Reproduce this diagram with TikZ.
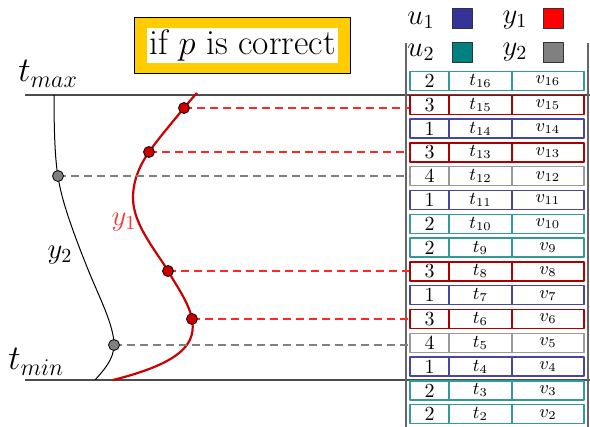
\documentclass[tikz,border=0pt]{standalone}
\definecolor{ublue}{RGB}{51,51,153}
\definecolor{uteal}{RGB}{0,128,128}
\definecolor{yred}{RGB}{204,0,0}
\definecolor{ygray}{RGB}{128,128,128}
\definecolor{boxorange}{RGB}{255,204,0}
\begin{document}
\begin{tikzpicture}[x=0.5pt,y=-0.5pt,line join=round,
	cell/.style={draw,line width=0.7pt,inner sep=0pt,minimum height=9.5pt},
	kind1/.style={draw=ublue!90},
	kind2/.style={draw=uteal!80},
	kind3/.style={draw=yred!85!black},
	kind4/.style={draw=ygray!80},
	dot/.style={circle,draw=black,line width=0.4pt,inner sep=0pt,minimum size=5.5pt},
	key/.style={draw=black!80,line width=0.5pt,minimum size=10pt,inner sep=0pt}]
	\useasboundingbox (0,0) rectangle (590,427);
	%time axis
	\draw[black!70,line width=0.8pt] (25,95)--(590,95) (25,380)--(590,380);
	\node[anchor=base west,font=\LARGE,inner sep=0pt] (tmax) at (18,82) {$t_{max}$};
	\node[anchor=base west,font=\LARGE,inner sep=0pt] (tmin) at (8,370) {$t_{min}$};
	%title
	\node[draw,fill=boxorange,inner xsep=6.5pt,inner ysep=5pt] (title) at (242.5,45.5)
	{\fboxsep=1pt\colorbox{white}{\fontsize{17.7}{21}\selectfont if $p$ is correct}};
	%legend
	\node[font=\Large] (u1) at (421,20) {$u_1$};
	\node[key,fill=ublue] (ku1) at (462,19) {};
	\node[font=\Large] (y1) at (515,20) {$y_1$};
	\node[key,fill=red] (ky1) at (553,19) {};
	\node[font=\Large] (u2) at (421,52) {$u_2$};
	\node[key,fill=uteal] (ku2) at (462,53) {};
	\node[font=\Large] (y2) at (515,52) {$y_2$};
	\node[key,fill=ygray] (ky2) at (553,53) {};
	%table
	\draw[black!60,line width=1pt] (406,43)--(406,427) (588,43)--(588,427);
	\foreach \k/\kd in {16/2,15/3,14/1,13/3,12/4,11/1,10/2,9/2,8/3,7/1,6/3,5/4,4/1,3/2,2/2}{
		\pgfmathsetmacro{\ry}{81+(16-\k)*23.8}
		\node[cell,kind\kd,minimum width=19.5pt] (n\k) at (429.5,\ry) {\kd};
		\node[cell,kind\kd,minimum width=31.5pt,font=\small] (t\k) at (480.5,\ry) {$t_{\k}$};
		\node[cell,kind\kd,minimum width=36pt,font=\small] (v\k) at (548,\ry) {$v_{\k}$};
	}
	%points on the curves
	\coordinate (r15) at (184,108);
	\coordinate (r13) at (149,152);
	\coordinate (r8) at (168,271);
	\coordinate (r6) at (192,319);
	\coordinate (g12) at (58,176);
	\coordinate (g5) at (114,345);
	%curves
	\draw[black,line width=0.5pt] (54,95) .. controls (54,130) and (55,160) .. (g12)
		.. controls (61,200) and (75,237) .. (87,267)
		.. controls (99,297) and (114,325) .. (g5)
		.. controls (114,360) and (102,372) .. (95,380);
	\draw[yred,line width=1.1pt] (113,380) .. controls (185,362) and (196,342) .. (r6)
		.. controls (189,303) and (176,285) .. (r8)
		.. controls (157,252) and (133,225) .. (133,198)
		.. controls (133,180) and (140,165) .. (r13)
		.. controls (158,139) and (175,119) .. (r15)
		.. controls (190,101) and (193,97) .. (197,93);
	\node[font=\Large,red!80] (lab1) at (124,222) {$y_1$};
	\node[font=\Large] (lab2) at (60,255) {$y_2$};
	%dashed links
	\foreach \p/\k in {r15/15,r13/13,r8/8,r6/6}
		\draw[red!85,dash pattern=on 4pt off 2.5pt,line width=0.7pt] (\p)--(\p -| n\k.west);
	\foreach \p/\k in {g12/12,g5/5}
		\draw[ygray,dash pattern=on 4pt off 2.5pt,line width=0.7pt] (\p)--(\p -| n\k.west);
	\foreach \p in {r15,r13,r8,r6} \node[dot,fill=yred] (d\p) at (\p) {};
	\foreach \p in {g12,g5} \node[dot,fill=ygray] (d\p) at (\p) {};
\end{tikzpicture}
\end{document}
